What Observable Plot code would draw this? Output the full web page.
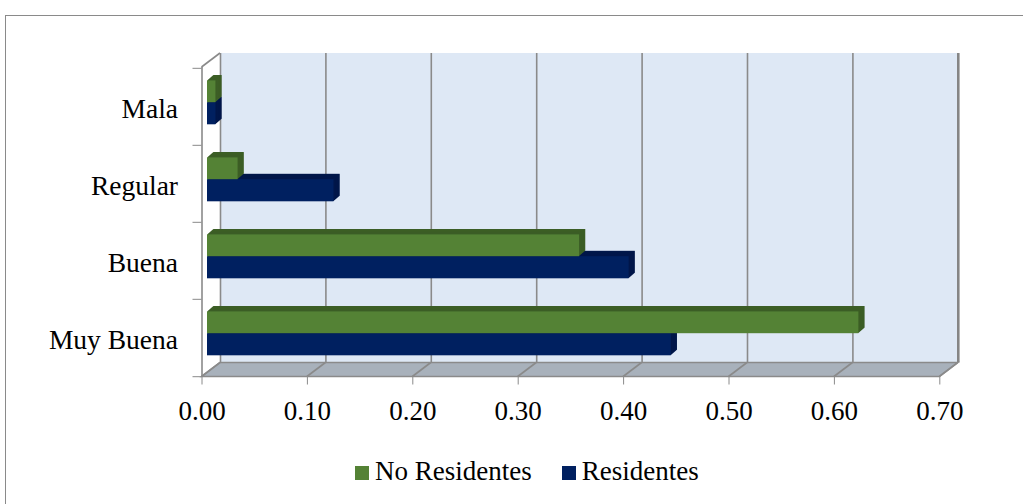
<!DOCTYPE html>
<html>
<head>
<meta charset="utf-8">
<script src="https://cdn.jsdelivr.net/npm/d3@7"></script>
<script src="https://cdn.jsdelivr.net/npm/@observablehq/plot@0.6"></script>
<style>
  body { margin: 0; background: #fff; }
  #wrap { position: relative; width: 1023px; height: 504px; overflow: hidden; font-family: "Liberation Serif", "Times New Roman", serif; }
  #border { position: absolute; left: 5px; top: 15px; width: 1060px; height: 540px; border: 1px solid #8a8a8a; box-sizing: border-box; }
  #chart { position: absolute; left: 0; top: 0; }
  #legend { position: absolute; left: 355px; top: 458px; font-size: 27px; line-height: 27px; white-space: nowrap; color: #000; }
  #legend .sw { display: inline-block; width: 14px; height: 14px; margin-right: 6px; vertical-align: baseline; }
  #legend .item { margin-right: 30px; }
</style>
</head>
<body>
<div id="wrap">
  <div id="border"></div>
  <div id="chart"></div>
  <div id="legend"></div>
</div>
<script>
// ---- data ----
const categories = ["Mala", "Regular", "Buena", "Muy Buena"];
const seriesNames = ["No Residentes", "Residentes"];
const noResidentes = [0.008, 0.029, 0.353, 0.618];
const residentes = [0.008, 0.12, 0.40, 0.44];
const xTicks = [0, 0.1, 0.2, 0.3, 0.4, 0.5, 0.6, 0.7];
const xDomain = [0, 0.7];
const seriesColors = ["#548235", "#002060"];
const sideColors = ["#3c5e26", "#00174a"];

const rows = [];
categories.forEach((c, i) => {
  rows.push({cat: c, series: seriesNames[0], value: noResidentes[i]});
  rows.push({cat: c, series: seriesNames[1], value: residentes[i]});
});

// ---- layout ----
const W = 1023, H = 440;
const mL = 201.5, mR = W - 939.3, mT = 67, mB = H - 376.5;
const DX = 18.5, DY = -14;     // wall depth
const BX = 5.5, BY = -4.3;     // bar depth position
const EX = 6.2, EY = -5.4;     // bar extrusion
const bw = (H - mB - mT) / categories.length;
const gridColor = "#8a8a8a";
const wallColor = "#dee8f5";
const floorColor = "#a8b1bb";
const font = "Liberation Serif";

const insets = [
  {insetTop: 16.7, insetBottom: 38.5},
  {insetTop: 38.5, insetBottom: 16.4}
];

function seriesMarks(si) {
  const data = rows.filter(d => d.series === seriesNames[si]);
  const marks = [];
  const n = 12;
  for (let k = n; k >= 1; k--) {
    marks.push(Plot.barX(data, {
      y: "cat", x: "value", fill: sideColors[si],
      ...insets[si],
      dx: BX + EX * k / n, dy: BY + EY * k / n
    }));
  }
  marks.push(Plot.barX(data, {
    y: "cat", x: "value", fill: seriesColors[si],
    ...insets[si], dx: BX, dy: BY
  }));
  return marks;
}

const plot = Plot.plot({
  width: W, height: H,
  marginLeft: mL, marginRight: mR, marginTop: mT, marginBottom: mB,
  style: {fontFamily: font, fontSize: "27px", color: "#000", background: "transparent"},
  x: {domain: xDomain, nice: false, label: null},
  y: {domain: categories, padding: 0, label: null},
  marks: [
    // back wall
    Plot.rect([xDomain], {x1: d => d[0], x2: d => d[1], fill: wallColor, dx: DX, dy: DY}),
    Plot.ruleX(xTicks.slice(0, -1), {x: d => d, stroke: gridColor, strokeWidth: 1.6, dx: DX, dy: DY}),
    Plot.ruleX(xTicks.slice(-1), {x: d => d, stroke: "#858585", strokeWidth: 2.6, dx: DX, dy: DY}),
    // front left axis line
    Plot.ruleX([0], {x: d => d, stroke: gridColor, strokeWidth: 1.6}),
    // bars
    ...seriesMarks(1),
    ...seriesMarks(0),
    // axes
    Plot.axisX(xTicks, {tickSize: 8, tickPadding: 16, tickFormat: d => d.toFixed(2), stroke: gridColor, fill: "#000", label: null, fontSize: 27}),
    Plot.axisY({tickSize: 0, tickPadding: 24, fill: "#000", label: null, fontSize: 27.5, dy: 2}),
    Plot.axisY(categories, {tickSize: 9, tickFormat: () => "", stroke: gridColor, label: null, dy: -bw / 2}),
    Plot.axisY(categories.slice(-1), {tickSize: 9, tickFormat: () => "", stroke: gridColor, label: null, dy: bw / 2})
  ]
});

document.getElementById("chart").appendChild(plot);

// 3D floor and left wall edges from the x scale
const xs = plot.scale("x");
const X = v => xs.apply(v);
const yB = H - mB, yT = mT;
const svg = d3.select(plot);
const g = svg.append("g").attr("aria-label", "floor");
g.append("path")
  .attr("d", `M${X(xDomain[0])},${yB}L${X(xDomain[1])},${yB}L${X(xDomain[1]) + DX},${yB + DY}L${X(xDomain[0]) + DX},${yB + DY}Z`)
  .attr("fill", floorColor).attr("stroke", gridColor).attr("stroke-width", 1.4);
xTicks.forEach(t => {
  g.append("line")
    .attr("x1", X(t)).attr("y1", yB).attr("x2", X(t) + DX).attr("y2", yB + DY)
    .attr("stroke", gridColor).attr("stroke-width", 1.6);
});
g.append("line")
  .attr("x1", X(xDomain[0])).attr("y1", yT).attr("x2", X(xDomain[0]) + DX).attr("y2", yT + DY)
  .attr("stroke", gridColor).attr("stroke-width", 1.6);

// legend
const legend = document.getElementById("legend");
seriesNames.forEach((s, i) => {
  const item = document.createElement("span");
  item.className = "item";
  const sw = document.createElement("span");
  sw.className = "sw";
  sw.style.background = seriesColors[i];
  item.appendChild(sw);
  item.appendChild(document.createTextNode(s));
  legend.appendChild(item);
});
</script>
</body>
</html>
